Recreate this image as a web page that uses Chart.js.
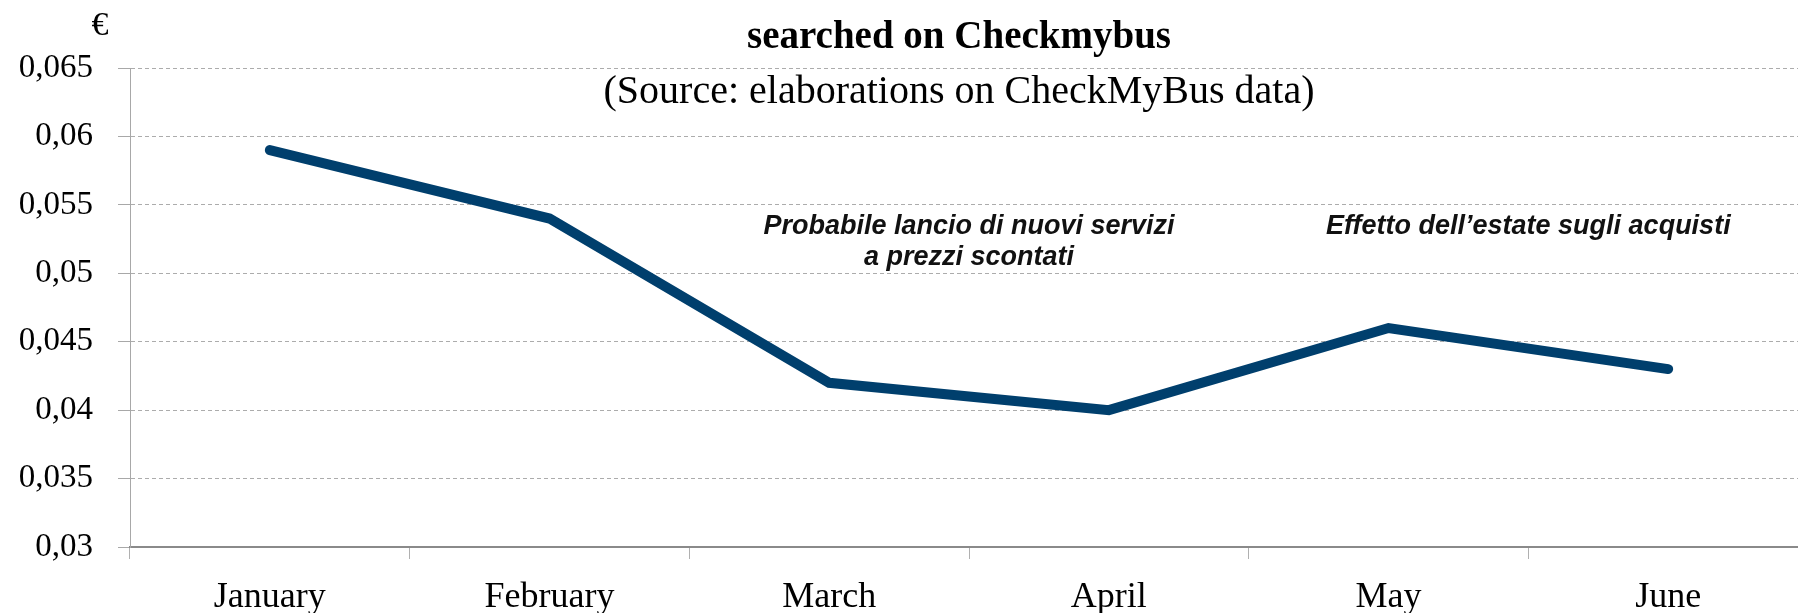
<!DOCTYPE html>
<html>
<head>
<meta charset="utf-8">
<script src="https://cdn.jsdelivr.net/npm/chart.js@4"></script>
<style>
  html, body { margin: 0; padding: 0; background: #fff; overflow: hidden; }
  #wrap { width: 1808px; height: 640px; }
</style>
</head>
<body>
<div id="wrap"><canvas id="priceChart" width="1808" height="640"></canvas></div>
<script>
const months = ['January', 'February', 'March', 'April', 'May', 'June'];
const pricePerKm = [0.059, 0.054, 0.042, 0.040, 0.046, 0.043];
const yMin = 0.03;
const yMax = 0.065;
const yStep = 0.005;

const titleText = 'searched on Checkmybus';
const subtitleText = '(Source: elaborations on CheckMyBus data)';
const unitText = '€';

// annotation text: category position (index) and value of first baseline
const noteLines = [
  ['Probabile lancio di nuovi servizi', 'a prezzi scontati'],
  ['Effetto dell’estate sugli acquisti']
];
const noteAt = [2.5, 4.5];
const noteValue = [0.0529, 0.0529];

const textPlugin = {
  id: 'texts',
  afterDraw(chart) {
    const ctx = chart.ctx;
    const x = chart.scales.x, y = chart.scales.y;
    ctx.save();
    ctx.fillStyle = '#000';
    ctx.textAlign = 'center';
    ctx.textBaseline = 'alphabetic';
    ctx.font = 'bold 39px "Liberation Serif"';
    ctx.fillText(titleText, 959, 48);
    ctx.font = '40px "Liberation Serif"';
    ctx.fillText(subtitleText, 959, 103);
    ctx.font = '34px "Liberation Serif"';
    ctx.fillText(unitText, 100, 35);
    ctx.font = 'italic bold 27px "Liberation Sans"';
    ctx.fillStyle = '#111';
    noteLines.forEach((lines, i) => {
      const px = x.getPixelForValue(noteAt[i]);
      const py = y.getPixelForValue(noteValue[i]);
      lines.forEach((l, j) => ctx.fillText(l, px, py + j * 31));
    });
    ctx.restore();
  }
};

const ctx = document.getElementById('priceChart').getContext('2d');
const chart = new Chart(ctx, {
  type: 'line',
  data: {
    labels: months,
    datasets: [{
      data: pricePerKm,
      borderColor: '#003f6d',
      borderWidth: 10,
      borderCapStyle: 'round',
      borderJoinStyle: 'miter',
      pointRadius: 0,
      tension: 0,
      fill: false
    }]
  },
  options: {
    responsive: false,
    animation: false,
    devicePixelRatio: 1,
    layout: { padding: { top: 68, left: 0, right: 0, bottom: 0 } },
    plugins: { legend: { display: false }, tooltip: { enabled: false } },
    scales: {
      x: {
        offset: true,
        grid: { offset: true, drawOnChartArea: false, drawTicks: true, tickLength: 12, tickColor: '#b0b0b0' },
        border: { color: '#8a8a8a', width: 2 },
        ticks: { color: '#000', padding: 17, font: { family: 'Liberation Serif', size: 36 } },
        afterFit(s) { s.height = 93; }
      },
      y: {
        min: yMin,
        max: yMax,
        grid: { color: '#acacac', lineWidth: 1, tickLength: 12, tickColor: '#a8a8a8', tickBorderDash: [] },
        border: { color: '#a8a8a8', width: 1, dash: [4, 3] },
        ticks: {
          stepSize: yStep,
          color: '#000',
          padding: 25,
          font: { family: 'Liberation Serif', size: 33 },
          callback: v => String(parseFloat(v.toFixed(3))).replace('.', ',')
        },
        afterFit(s) { s.width = 130; }
      }
    }
  },
  plugins: [textPlugin]
});
</script>
</body>
</html>
